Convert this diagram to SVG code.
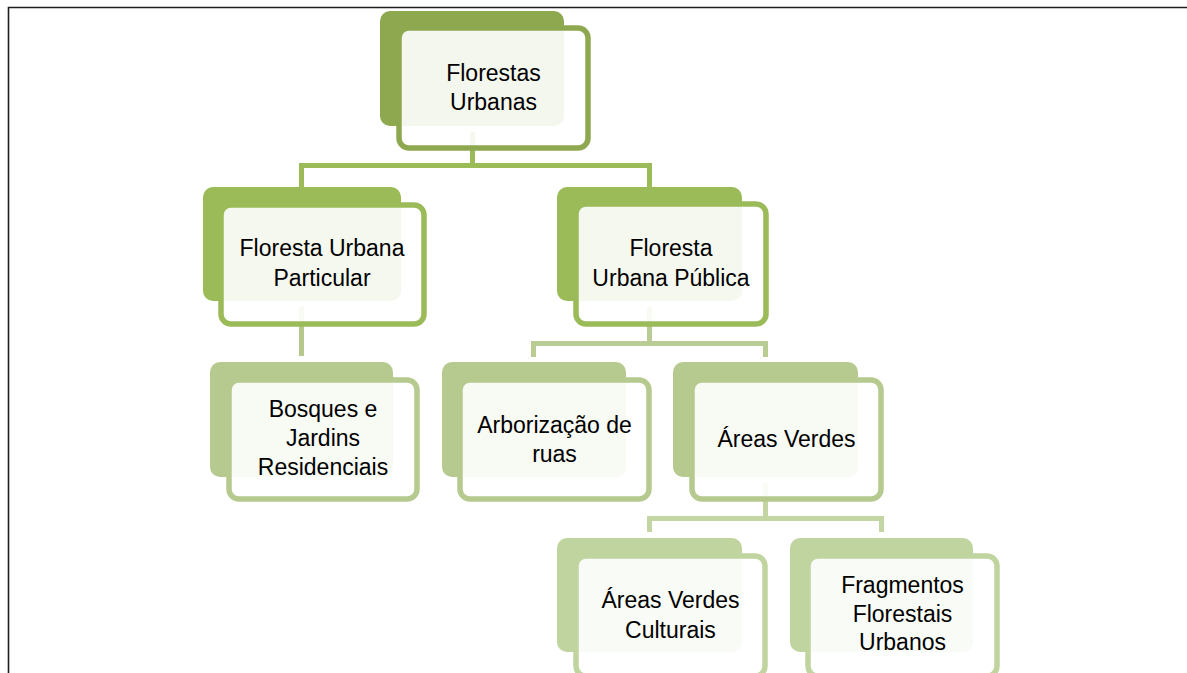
<svg xmlns="http://www.w3.org/2000/svg" width="1187" height="673" viewBox="0 0 1187 673">
<style>
.t{font-family:"Liberation Sans",Arial,sans-serif;font-size:23px;fill:#000;text-anchor:middle}
.fr{fill:#fff;fill-opacity:0.9;stroke-width:5.5}
.c{fill:none;stroke-width:5}
.l0{fill:#8EA850}
.s0{stroke:#8EA850}
.l1{fill:#9BBB59}
.s1{stroke:#9BBB59}
.l2{fill:#B6CA8F}
.s2{stroke:#B6CA8F}
.l3{fill:#C0D4A0}
.s3{stroke:#C0D4A0}
</style>
<rect width="1187" height="673" fill="#fff"/>
<path d="M8.5,673 V7.5 H1187" fill="none" stroke="#1e1e1e" stroke-width="1.6"/>
<g id="connectors">
<path class="c" d="M472.5,132 V165.5 M301.5,187 V165.5 H649.5 V187" stroke="#9BBB59"/>
<path class="c" d="M301.5,307 V356" stroke="#B5C98D"/>
<path class="c" d="M649.5,307 V343.5 M533.5,357 V343.5 H765.5 V357" stroke="#B9CC93"/>
<path class="c" d="M765.5,483 V518.5 M649.5,532 V518.5 H881.5 V532" stroke="#C2D5A3"/>
</g>
<g id="n1">
<rect class="l0" x="380" y="11" width="184" height="115" rx="10"/>
<rect class="fr s0" x="399" y="28" width="189" height="120" rx="10"/>
<text class="t" x="493.5" y="81">Florestas</text>
<text class="t" x="493.5" y="110">Urbanas</text>
</g>
<g id="n2">
<rect class="l1" x="203" y="187" width="198" height="114" rx="10"/>
<rect class="fr s1" x="221" y="205" width="203" height="119" rx="10"/>
<text class="t" x="322" y="256">Floresta Urbana</text>
<text class="t" x="322" y="286">Particular</text>
</g>
<g id="n3">
<rect class="l1" x="557" y="187" width="185" height="114" rx="10"/>
<rect class="fr s1" x="576" y="204" width="190" height="120" rx="10"/>
<text class="t" x="671" y="256">Floresta</text>
<text class="t" x="671" y="286">Urbana Pública</text>
</g>
<g id="n4">
<rect class="l2" x="210" y="362" width="183" height="115" rx="10"/>
<rect class="fr s2" x="229" y="380" width="188" height="119" rx="10"/>
<text class="t" x="323" y="417">Bosques e</text>
<text class="t" x="323" y="446">Jardins</text>
<text class="t" x="323" y="475">Residenciais</text>
</g>
<g id="n5">
<rect class="l2" x="442" y="362" width="184" height="115" rx="10"/>
<rect class="fr s2" x="460" y="380" width="189" height="119" rx="10"/>
<text class="t" x="554.5" y="433">Arborização de</text>
<text class="t" x="554.5" y="462">ruas</text>
</g>
<g id="n6">
<rect class="l2" x="673" y="362" width="185" height="115" rx="10"/>
<rect class="fr s2" x="692" y="380" width="189" height="119" rx="10"/>
<text class="t" x="786.5" y="447">Áreas Verdes</text>
</g>
<g id="n7">
<rect class="l3" x="557" y="538" width="185" height="114" rx="10"/>
<rect class="fr s3" x="576" y="556" width="189" height="120" rx="10"/>
<text class="t" x="670.5" y="608">Áreas Verdes</text>
<text class="t" x="670.5" y="638">Culturais</text>
</g>
<g id="n8">
<rect class="l3" x="790" y="538" width="183" height="114" rx="10"/>
<rect class="fr s3" x="808" y="556" width="189" height="120" rx="10"/>
<text class="t" x="902.5" y="593">Fragmentos</text>
<text class="t" x="902.5" y="622">Florestais</text>
<text class="t" x="902.5" y="650">Urbanos</text>
</g>
</svg>
